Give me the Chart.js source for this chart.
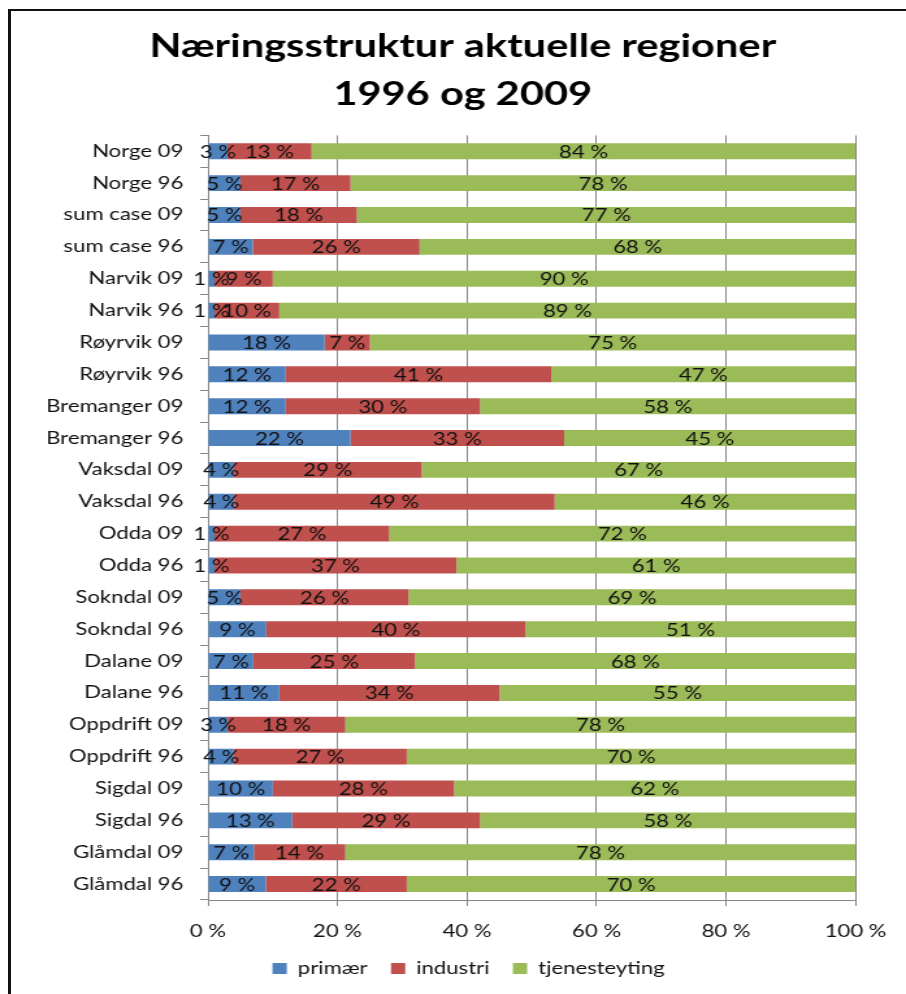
<!DOCTYPE html>
<html>
<head>
<meta charset="utf-8">
<script src="https://cdn.jsdelivr.net/npm/chart.js@4/dist/chart.umd.min.js"></script>
<style>
  html, body { margin: 0; padding: 0; background: #fff; }
  #wrap { position: relative; width: 906px; height: 994px; overflow: hidden; }
  #frame { position: absolute; left: 8px; top: 9px; width: 898px; height: 985px;
           border-top: 2px solid #111; border-left: 3px solid #111; box-sizing: border-box; pointer-events: none; }
  /* the reference picture is stretched sideways, so the canvas is too */
  canvas { position: absolute; left: 0; top: 0; width: 906px; height: 994px; }
</style>
</head>
<body>
<div id="wrap">
  <canvas id="chart" width="697" height="994" style="width:906px;height:994px"></canvas>
  <div id="frame"></div>
</div>
<script>
// Regions, top to bottom as they appear in the picture.
const regions = [
  'Norge 09', 'Norge 96', 'sum case 09', 'sum case 96', 'Narvik 09', 'Narvik 96',
  'Røyrvik 09', 'Røyrvik 96', 'Bremanger 09', 'Bremanger 96', 'Vaksdal 09', 'Vaksdal 96',
  'Odda 09', 'Odda 96', 'Sokndal 09', 'Sokndal 96', 'Dalane 09', 'Dalane 96',
  'Oppdrift 09', 'Oppdrift 96', 'Sigdal 09', 'Sigdal 96', 'Glåmdal 09', 'Glåmdal 96'
];

// Share of employment in percent, same order as regions.
const primaer = [3, 5, 5, 7, 1, 1, 18, 12, 12, 22, 4, 4, 1, 1, 5, 9, 7, 11, 3, 4, 10, 13, 7, 9];
const industri = [13, 17, 18, 26, 9, 10, 7, 41, 30, 33, 29, 49, 27, 37, 26, 40, 25, 34, 18, 27, 28, 29, 14, 22];
const tjenesteyting = [84, 78, 77, 68, 90, 89, 75, 47, 58, 45, 67, 46, 72, 61, 69, 51, 68, 55, 78, 70, 62, 58, 78, 70];

const xTicks = [0, 20, 40, 60, 80, 100];

const FONT = 'Lato, "Open Sans", sans-serif';

// 100 % stacked, like the spreadsheet does it: each row scaled to its own total.
const totals = regions.map((_, i) => primaer[i] + industri[i] + tjenesteyting[i]);
const share = arr => arr.map((v, i) => v * 100 / totals[i]);

// Centered value labels on each segment (no datalabels plugin available).
const segmentLabels = {
  id: 'segmentLabels',
  afterDatasetsDraw(chart) {
    const ctx = chart.ctx;
    ctx.save();
    ctx.font = '17px ' + FONT;
    ctx.fillStyle = '#111';
    ctx.textAlign = 'center';
    ctx.textBaseline = 'middle';
    chart.data.datasets.forEach((ds, di) => {
      chart.getDatasetMeta(di).data.forEach((bar, i) => {
        const x = (bar.x + bar.base) / 2;
        ctx.fillText(ds.raw[i] + ' %', x, bar.y + 1);
      });
    });
    ctx.restore();
  }
};

// Title and legend sit a bit right of the canvas centre in the reference.
const blockShift = {
  id: 'blockShift',
  afterLayout(chart) {
    if (chart.titleBlock) chart.titleBlock.left += 53;
    if (chart.legend) chart.legend.left += 62;
  }
};

const mkSet = (label, raw, color) => ({
  label, raw,
  data: share(raw),
  backgroundColor: color,
  borderWidth: 0,
  barPercentage: 0.5,
  categoryPercentage: 1
});

new Chart(document.getElementById('chart').getContext('2d'), {
  type: 'bar',
  data: {
    labels: regions,
    datasets: [
      mkSet('primær', primaer, '#4F81BD'),
      mkSet('industri', industri, '#C0504D'),
      mkSet('tjenesteyting', tjenesteyting, '#9BBB59')
    ]
  },
  options: {
    indexAxis: 'y',
    responsive: false,
    animation: false,
    devicePixelRatio: 1,
    layout: { padding: { top: 10, right: 38, bottom: 7, left: 0 } },
    plugins: {
      title: {
        display: true,
        text: ['Næringsstruktur aktuelle regioner', '1996 og 2009'],
        color: '#000',
        font: { family: FONT, size: 32, weight: 'bold', lineHeight: 1.49 },
        padding: { top: 13, bottom: 17 }
      },
      legend: {
        position: 'bottom',
        labels: { color: '#111', font: { family: FONT, size: 17 }, boxWidth: 11, boxHeight: 11, padding: 18 }
      },
      tooltip: { enabled: false }
    },
    scales: {
      x: {
        stacked: true, min: 0, max: 100,
        afterBuildTicks: s => { s.ticks = xTicks.map(v => ({ value: v })); },
        afterFit: s => { s.height = 42; },
        grid: { color: '#868686', tickLength: 6 },
        border: { color: '#868686' },
        ticks: { color: '#111', font: { family: FONT, size: 17 }, padding: 15, callback: v => v + ' %' }
      },
      y: {
        stacked: true,
        afterFit: s => { s.width = 160; },
        grid: { drawOnChartArea: false, color: '#868686', tickLength: 6, offset: true },
        border: { color: '#868686' },
        ticks: { color: '#111', font: { family: FONT, size: 17 }, padding: 13, autoSkip: false }
      }
    }
  },
  plugins: [segmentLabels, blockShift]
});
</script>
</body>
</html>
